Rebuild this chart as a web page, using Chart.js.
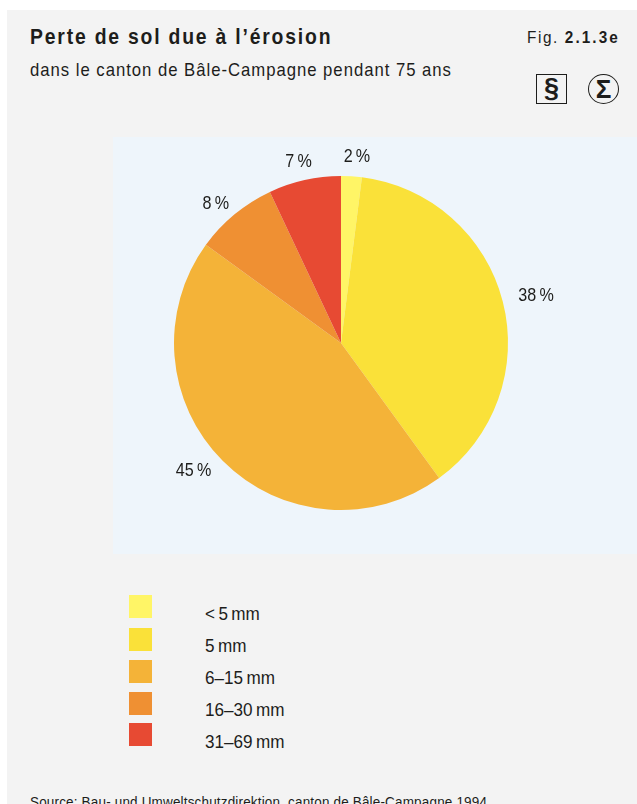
<!DOCTYPE html>
<html lang="fr">
<head>
<meta charset="utf-8">
<title>Perte de sol due à l'érosion</title>
<script src="https://cdn.jsdelivr.net/npm/chart.js@4"></script>
<style>
    html, body { margin: 0; padding: 0; background: #fff; }
    body { width: 637px; height: 804px; position: relative; overflow: hidden; font-family: "Liberation Sans", sans-serif; color: #1d1d1b; }
    .panel { position: absolute; left: 7px; top: 10px; width: 630px; height: 794px; background: #f3f3f3; }
    .plot { position: absolute; left: 113px; top: 137px; width: 524px; height: 417px; background: #eef5fb; }
    #pie { position: absolute; left: 118px; top: 140px; }
    /* no condensed face installed, so the text is squeezed horizontally */
    .txt { position: absolute; white-space: nowrap; transform-origin: left center; }
    .title { left: 30px; top: 24px; font-size: 22px; font-weight: 700; letter-spacing: 2.05px; transform: scaleX(.88); }
    .sub { left: 30px; top: 59px; font-size: 19px; letter-spacing: 1.1px; transform: scaleX(.88); }
    .fig { left: 527px; top: 28px; font-size: 17px; letter-spacing: 1.8px; transform: scaleX(.9); }
    .fig b { letter-spacing: 2.3px; }
    .icon { position: absolute; box-sizing: border-box; text-align: center; font-weight: 700; }
    .para { left: 536px; top: 74px; width: 31px; height: 30px; border: 1.5px solid #1d1d1b; font-size: 27px; line-height: 27px; }
    .sigma { left: 588px; top: 74px; width: 31px; height: 30px; border: 1px solid #1d1d1b; border-radius: 50%; font-size: 26px; line-height: 28px; }
    .source { left: 30px; top: 793px; font-size: 15.5px; letter-spacing: .2px; transform: scaleX(.87); }
    .swatch { position: absolute; left: 129px; width: 23px; height: 23px; }
    .legend-label { position: absolute; left: 205px; font-size: 19px; line-height: 22px; white-space: nowrap; transform: scaleX(.9); transform-origin: left center; }
</style>
</head>
<body>
<div class="panel"></div>
<div class="plot"></div>
<div class="txt title">Perte de sol due à l’érosion</div>
<div class="txt sub">dans le canton de Bâle-Campagne pendant 75 ans</div>
<div class="txt fig">Fig. <b>2.1.3e</b></div>
<div class="icon para">§</div>
<div class="icon sigma">Σ</div>
<canvas id="pie" width="519" height="413"></canvas>
<div id="legend"></div>
<div class="txt source">Source: Bau- und Umweltschutzdirektion, canton de Bâle-Campagne 1994</div>

<script>
const categories = ['<\u20095\u2009mm', '5\u2009mm', '6–15\u2009mm', '16–30\u2009mm', '31–69\u2009mm'];
const shares = [2, 38, 45, 8, 7];
const sliceColors = ['#fff566', '#fae139', '#f4b338', '#ef9033', '#e74a33'];
const swatchTops = [595, 628, 660, 692, 723];
const legendTextTops = [603, 635, 667, 699, 731];

// Percent labels sit outside the rim; nudges keep them clear of the slice edges
const labelNudge = [[4, 3], [11, 0], [-13, -7], [-4, 7], [-1, 4]];

const outsideLabels = {
    id: 'outsideLabels',
    afterDatasetsDraw(chart) {
        const { ctx } = chart;
        chart.getDatasetMeta(0).data.forEach((arc, i) => {
            const mid = (arc.startAngle + arc.endAngle) / 2;
            const r = arc.outerRadius + 23;
            ctx.save();
            ctx.translate(arc.x + Math.cos(mid) * r + labelNudge[i][0], arc.y + Math.sin(mid) * r + labelNudge[i][1]);
            ctx.scale(.85, 1);
            ctx.font = '19px "Liberation Sans", sans-serif';
            ctx.fillStyle = '#1d1d1b';
            ctx.textAlign = 'center';
            ctx.textBaseline = 'middle';
            ctx.fillText(`${shares[i]}\u2009%`, 0, 0);
            ctx.restore();
        });
    }
};

new Chart(document.getElementById('pie'), {
    type: 'pie',
    data: {
        labels: categories,
        datasets: [{
            data: shares,
            backgroundColor: sliceColors,
            borderWidth: 0
        }]
    },
    options: {
        responsive: false,
        animation: false,
        layout: { padding: { left: 56, right: 129, top: 36, bottom: 43 } },
        plugins: { legend: { display: false }, tooltip: { enabled: false } }
    },
    plugins: [outsideLabels]
});

const legend = document.getElementById('legend');
categories.forEach((name, i) => {
    const row = `
        <div class="swatch" style="top: ${swatchTops[i]}px; background: ${sliceColors[i]};"></div>
        <div class="legend-label" style="top: ${legendTextTops[i]}px;">${name.replace('<', '&lt;')}</div>
    `;
    legend.insertAdjacentHTML('beforeend', row);
});
</script>
</body>
</html>
